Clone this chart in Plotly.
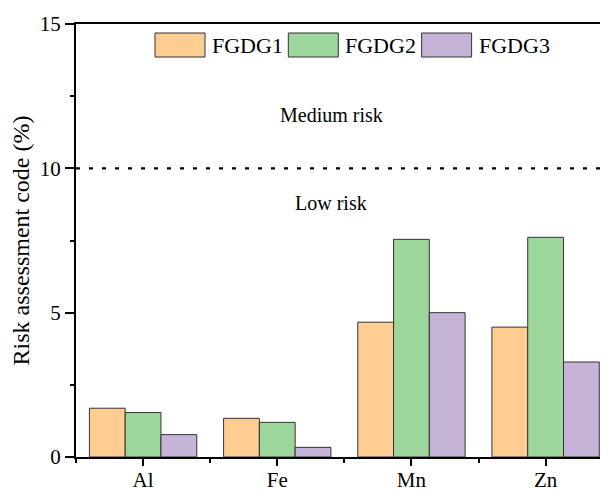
import plotly.graph_objects as go

categories = ["Al", "Fe", "Mn", "Zn"]
series_names = ["FGDG1", "FGDG2", "FGDG3"]
fgdg1 = [1.69, 1.34, 4.67, 4.50]
fgdg2 = [1.54, 1.20, 7.54, 7.61]
fgdg3 = [0.775, 0.335, 5.00, 3.29]
threshold = 10
y_ticks = [0, 5, 10, 15]
colors = ["#FFCC91", "#9DD79B", "#C6B4D8"]

FONT = "Liberation Serif, Times New Roman, serif"
# the page places the figure 8px from the top-left corner of the window
OFF = 8
W, H = 608 - OFF, 490 - OFF
ML, MR, MT, MB = 76 - OFF, 0, 24 - OFF, 490 - 457
PW = W - ML - MR
PH = H - MT - MB

xs = list(range(len(categories)))
fig = go.Figure()
for name, vals, col in zip(series_names, [fgdg1, fgdg2, fgdg3], colors):
    fig.add_trace(go.Bar(
        x=xs, y=vals, name=name, showlegend=False,
        marker=dict(color=col, line=dict(color="#333333", width=1)),
    ))

# threshold line
fig.add_shape(type="line", xref="paper", yref="y", x0=0, x1=1, y0=threshold, y1=threshold,
              line=dict(color="black", width=2.2, dash="4px,9px"))

# manual legend (large swatches); positions given in window pixels
px_to_xp = lambda px: (px - OFF - ML) / PW
py_to_yp = lambda py: (H - MB - (py - OFF)) / PH
leg_x0, step, sw_w, sw_top, sw_bot = 155, 133.3, 50, 33, 57
for i, (name, col) in enumerate(zip(series_names, colors)):
    x0 = leg_x0 + i * step
    fig.add_shape(type="rect", xref="paper", yref="paper",
                  x0=px_to_xp(x0), x1=px_to_xp(x0 + sw_w),
                  y0=py_to_yp(sw_bot), y1=py_to_yp(sw_top),
                  fillcolor=col, line=dict(color="#333333", width=1))
    fig.add_annotation(xref="paper", yref="paper", x=px_to_xp(x0 + sw_w + 5),
                       y=py_to_yp((sw_top + sw_bot) / 2 + 1), text=name, showarrow=False,
                       xanchor="left", yanchor="middle",
                       font=dict(family=FONT, size=22, color="black"))

fig.add_annotation(xref="paper", yref="y", x=px_to_xp(331), y=11.84, text="Medium risk",
                   showarrow=False, xanchor="center", yanchor="middle",
                   font=dict(family=FONT, size=20, color="black"))
fig.add_annotation(xref="paper", yref="y", x=px_to_xp(331), y=8.81, text="Low risk",
                   showarrow=False, xanchor="center", yanchor="middle",
                   font=dict(family=FONT, size=20, color="black"))

fig.update_layout(
    width=W, height=H,
    margin=dict(l=ML, r=MR, t=MT, b=MB, pad=0),
    paper_bgcolor="white", plot_bgcolor="white",
    barmode="group", bargap=0.2, bargroupgap=0,
    font=dict(family=FONT, size=21, color="black"),
)
fig.update_xaxes(
    range=[-0.5, 3.465], tickmode="array", tickvals=xs, ticktext=categories,
    automargin=False,
    showgrid=False, zeroline=False,
    showline=True, linecolor="black", linewidth=2, mirror=True,
    ticks="outside", ticklen=7, tickwidth=2, tickcolor="black",
    ticklabelstandoff=-4,
    minor=dict(ticks="outside", tick0=0.5, dtick=1, ticklen=4, tickwidth=2, tickcolor="black", showgrid=False),
    tickfont=dict(family=FONT, size=21),
)
fig.update_yaxes(
    range=[0, 15], tickmode="array", tickvals=y_ticks,
    automargin=False,
    showgrid=False, zeroline=False,
    showline=True, linecolor="black", linewidth=2,
    ticks="outside", ticklen=9, tickwidth=2, tickcolor="black",
    minor=dict(ticks="outside", tick0=0, dtick=2.5, ticklen=4, tickwidth=2, tickcolor="black", showgrid=False),
    tickfont=dict(family=FONT, size=21),
    title=dict(text="Risk assessment code (%)", font=dict(family=FONT, size=24), standoff=7),
)

fig.write_html("out.html")
